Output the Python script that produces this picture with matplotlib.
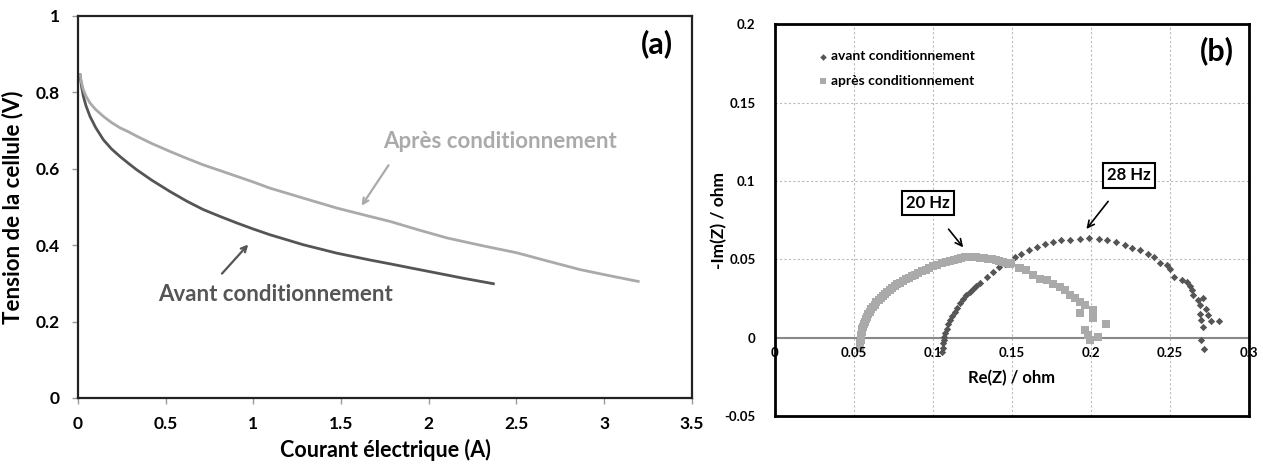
import matplotlib
matplotlib.use("Agg")
import matplotlib.pyplot as plt
from matplotlib.transforms import offset_copy

plt.rcParams['font.family'] = ['Lato', 'DejaVu Sans']

# --- (a) courbes de polarisation ---
courant_avant = [0.011, 0.02, 0.03, 0.045, 0.068, 0.1, 0.144, 0.19, 0.239, 0.29, 0.335,
                 0.42, 0.525, 0.62, 0.714, 0.81, 0.905, 1.0, 1.095, 1.19, 1.284, 1.38,
                 1.475, 1.57, 1.665, 1.779, 1.9, 2.045, 2.2, 2.368]
tension_avant = [0.846, 0.815, 0.790, 0.765, 0.737, 0.708, 0.676, 0.652, 0.632, 0.613, 0.597,
                 0.570, 0.540, 0.515, 0.493, 0.475, 0.458, 0.442, 0.427, 0.414, 0.401, 0.390,
                 0.379, 0.370, 0.361, 0.351, 0.340, 0.327, 0.313, 0.299]

courant_apres = [0.011, 0.02, 0.03, 0.045, 0.068, 0.1, 0.144, 0.19, 0.239, 0.29, 0.335,
                 0.42, 0.525, 0.62, 0.714, 0.81, 0.905, 1.0, 1.095, 1.19, 1.284, 1.38,
                 1.475, 1.57, 1.665, 1.779, 1.94, 2.102, 2.3, 2.501, 2.68, 2.862, 3.03, 3.194]
tension_apres = [0.846, 0.825, 0.807, 0.790, 0.772, 0.755, 0.737, 0.721, 0.707, 0.696, 0.685,
                 0.666, 0.645, 0.627, 0.610, 0.595, 0.580, 0.565, 0.549, 0.536, 0.523, 0.510,
                 0.497, 0.486, 0.475, 0.462, 0.440, 0.419, 0.399, 0.380, 0.358, 0.336, 0.320, 0.305]

# --- (b) spectres d'impédance (Nyquist) ---
re_avant = [0.1061, 0.1063, 0.1065, 0.1068, 0.1072, 0.1078, 0.1087, 0.1096, 0.1108, 0.1122,
            0.1139, 0.1154, 0.1171, 0.1190, 0.1213, 0.1234, 0.1255, 0.1276, 0.1297,
            0.134, 0.138, 0.142, 0.146, 0.152, 0.156, 0.161, 0.166, 0.171, 0.176, 0.181,
            0.187, 0.193, 0.199, 0.205, 0.210, 0.216, 0.222, 0.226, 0.231, 0.236, 0.240,
            0.244, 0.248, 0.250, 0.253, 0.258, 0.261, 0.263, 0.264, 0.265, 0.268, 0.271,
            0.269, 0.273, 0.269, 0.274, 0.270, 0.276, 0.281, 0.271, 0.270, 0.272]
im_avant = [-0.0090, -0.0063, -0.0036, -0.0015, 0.0006, 0.0032, 0.0059, 0.0085, 0.0112, 0.0139,
            0.0165, 0.0192, 0.0219, 0.0245, 0.0272, 0.0293, 0.0314, 0.0333, 0.0351,
            0.0387, 0.0419, 0.0451, 0.0472, 0.0515, 0.0536, 0.0562, 0.0579, 0.0596, 0.0609, 0.0621,
            0.0626, 0.0630, 0.0636, 0.0630, 0.0621, 0.0611, 0.0594, 0.0574, 0.0557, 0.0532, 0.0515,
            0.0477, 0.0462, 0.0440, 0.0387, 0.0370, 0.0355, 0.0328, 0.0306, 0.0270, 0.0243, 0.0253,
            0.0206, 0.0185, 0.0153, 0.0143, 0.0115, 0.0106, 0.0106, 0.0068, -0.0017, -0.0074]

re_apres = [0.0538, 0.0539, 0.0540, 0.0542, 0.0544, 0.0547, 0.0550, 0.0554, 0.0559, 0.0564,
            0.0570, 0.0577, 0.0584, 0.0592, 0.0601, 0.0611, 0.0622, 0.0632, 0.0643, 0.0656,
            0.0669, 0.0682, 0.0696, 0.0712, 0.0728, 0.0743, 0.0759, 0.0775, 0.0791, 0.0809,
            0.0827, 0.0846, 0.0865, 0.0886, 0.0907, 0.0930, 0.0954, 0.0978, 0.1002, 0.1028,
            0.1055, 0.1082, 0.1108, 0.1134, 0.1160, 0.1181, 0.1203, 0.1224, 0.1245, 0.1271,
            0.1297, 0.1323, 0.1350, 0.1375, 0.1399, 0.1422, 0.1445, 0.1468, 0.1491,
            0.1498, 0.1546, 0.1551, 0.1593, 0.1635, 0.1677, 0.1720, 0.1762, 0.1804, 0.1835,
            0.1867, 0.1899, 0.1930, 0.1962, 0.1930, 0.2015, 0.2015, 0.1962, 0.1983, 0.1994,
            0.2046, 0.2099]
im_apres = [-0.0068, -0.0052, -0.0036, -0.0017, 0.0002, 0.0020, 0.0038, 0.0054, 0.0070, 0.0086,
            0.0102, 0.0118, 0.0134, 0.0150, 0.0165, 0.0181, 0.0197, 0.0211, 0.0225, 0.0238,
            0.0252, 0.0265, 0.0278, 0.0290, 0.0303, 0.0316, 0.0329, 0.0341, 0.0352, 0.0362,
            0.0373, 0.0382, 0.0392, 0.0402, 0.0413, 0.0424, 0.0435, 0.0445, 0.0456, 0.0467,
            0.0478, 0.0484, 0.0490, 0.0498, 0.0505, 0.0511, 0.0516, 0.0517, 0.0516, 0.0512,
            0.0509, 0.0507, 0.0505, 0.0501, 0.0497, 0.0490, 0.0482, 0.0477, 0.0473,
            0.0474, 0.0448, 0.0442, 0.0431, 0.0399, 0.0378, 0.0367, 0.0346, 0.0325, 0.0304,
            0.0272, 0.0251, 0.0229, 0.0208, 0.0155, 0.0180, 0.0123, 0.0049, 0.0017, -0.0015,
            0.0006, 0.0087]

re_ticks = [0, 0.05, 0.1, 0.15, 0.2, 0.25, 0.3]
re_labels = ['0', '0.05', '0.1', '0.15', '0.2', '0.25', '0.3']

gris_fonce = '#555555'
gris_clair = '#aaaaaa'

fig = plt.figure(figsize=(12.63, 4.66), dpi=100)

# ---------------- panneau (a) ----------------
ax1 = fig.add_axes([0.0618, 0.146, 0.486, 0.820])
ax1.plot(courant_avant, tension_avant, color=gris_fonce, lw=2)
ax1.plot(courant_apres, tension_apres, color=gris_clair, lw=2)
ax1.set_xlim(0, 3.5)
ax1.set_ylim(0, 1)
ax1.set_xticks([0, 0.5, 1, 1.5, 2, 2.5, 3, 3.5])
ax1.set_xticklabels(['0', '0.5', '1', '1.5', '2', '2.5', '3', '3.5'])
ax1.set_yticks([0, 0.2, 0.4, 0.6, 0.8, 1])
ax1.set_yticklabels(['0', '0.2', '0.4', '0.6', '0.8', '1'])
ax1.tick_params(direction='out', length=4, width=1, color='#999999', pad=9,
                labelsize=12.5)
for lab in ax1.get_xticklabels() + ax1.get_yticklabels():
    lab.set_fontweight('bold')
for s in ax1.spines.values():
    s.set_linewidth(1.6)
    s.set_color('#222222')
ax1.set_xlabel('Courant électrique (A)', fontsize=15.5, fontweight='bold', labelpad=5)
ax1.set_ylabel('Tension de la cellule (V)', fontsize=16, fontweight='bold', labelpad=9)

ax1.text(2.406, 0.671, 'Après conditionnement', color=gris_clair, fontsize=16,
         fontweight='bold', ha='center', va='center')
ax1.annotate('', xy=(1.608, 0.497), xytext=(1.779, 0.615),
             arrowprops=dict(arrowstyle='->', color=gris_clair, lw=1.6))
ax1.text(1.123, 0.270, 'Avant conditionnement', color=gris_fonce, fontsize=16,
         fontweight='bold', ha='center', va='center')
ax1.annotate('', xy=(0.981, 0.407), xytext=(0.810, 0.320),
             arrowprops=dict(arrowstyle='->', color=gris_fonce, lw=1.6))
ax1.text(3.30, 0.926, '(a)', fontsize=22, fontweight='bold', ha='center', va='center')

# ---------------- panneau (b) ----------------
ax2 = fig.add_axes([0.6136, 0.107, 0.375, 0.841])
ax2.scatter(re_avant, im_avant, marker='D', s=14, color=gris_fonce, lw=0,
            label='avant conditionnement', zorder=3)
ax2.scatter(re_apres, im_apres, marker='s', s=30, color=gris_clair, lw=0,
            label='après conditionnement', zorder=3)
ax2.set_xlim(0, 0.3)
ax2.set_ylim(-0.05, 0.2)
ax2.set_xticks(re_ticks)
ax2.set_yticks([-0.05, 0, 0.05, 0.1, 0.15, 0.2])
ax2.set_yticklabels(['-0.05', '0', '0.05', '0.1', '0.15', '0.2'])
ax2.grid(True, linestyle=(0, (2, 2)), color='#bbbbbb', lw=0.8)
ax2.set_axisbelow(True)
ax2.axhline(0, color='#888888', lw=1.5, zorder=2)

# cadre noir du panneau (b) tracé avec des lignes de référence
for s in ax2.spines.values():
    s.set_visible(False)
ax2.axhline(0.2, color='black', lw=2.0, clip_on=False, zorder=5)
ax2.axhline(-0.05, color='black', lw=2.0, clip_on=False, zorder=5)
ax2.axvline(0, color='black', lw=2.0, clip_on=False, zorder=5)
ax2.axvline(0.3, color='black', lw=2.0, clip_on=False, zorder=5)

ax2.tick_params(length=0, labelsize=9.5)
ax2.tick_params(axis='y', pad=14)
ax2.tick_params(axis='x', labelbottom=False)
for lab in ax2.get_yticklabels():
    lab.set_fontweight('bold')

# étiquettes de l'axe des réels juste sous la ligne y = 0
trans = offset_copy(ax2.transData, fig=fig, x=0, y=-7, units='points')
for v, t in zip(re_ticks, re_labels):
    ax2.text(v, 0, t, transform=trans, fontsize=9.5, fontweight='bold',
             ha='center', va='top')
ax2.text(0.15, -0.0255, 'Re(Z) / ohm', fontsize=12, fontweight='bold',
         ha='center', va='center')
ax2.set_ylabel('-Im(Z) / ohm', fontsize=12.5, fontweight='bold', labelpad=-2)

ax2.legend(loc='upper left', bbox_to_anchor=(0.06, 0.965), frameon=False,
           prop={'weight': 'bold', 'size': 10}, handletextpad=0.1,
           handlelength=1.0, labelspacing=0.9, markerscale=0.9)

boite = dict(boxstyle='square,pad=0.25', fc='white', ec='black', lw=1.5)
ax2.annotate('20 Hz', xy=(0.1203, 0.0563), xytext=(0.0968, 0.0858),
             fontsize=12, fontweight='bold', ha='center', va='center', bbox=boite,
             arrowprops=dict(arrowstyle='->', color='black', lw=1.2, shrinkA=12))
ax2.annotate('28 Hz', xy=(0.1962, 0.0680), xytext=(0.224, 0.1036),
             fontsize=12, fontweight='bold', ha='center', va='center', bbox=boite,
             arrowprops=dict(arrowstyle='->', color='black', lw=1.2, shrinkA=12))
ax2.text(0.280, 0.183, '(b)', fontsize=22, fontweight='bold', ha='center', va='center')

fig.savefig('out.png', dpi=100)
